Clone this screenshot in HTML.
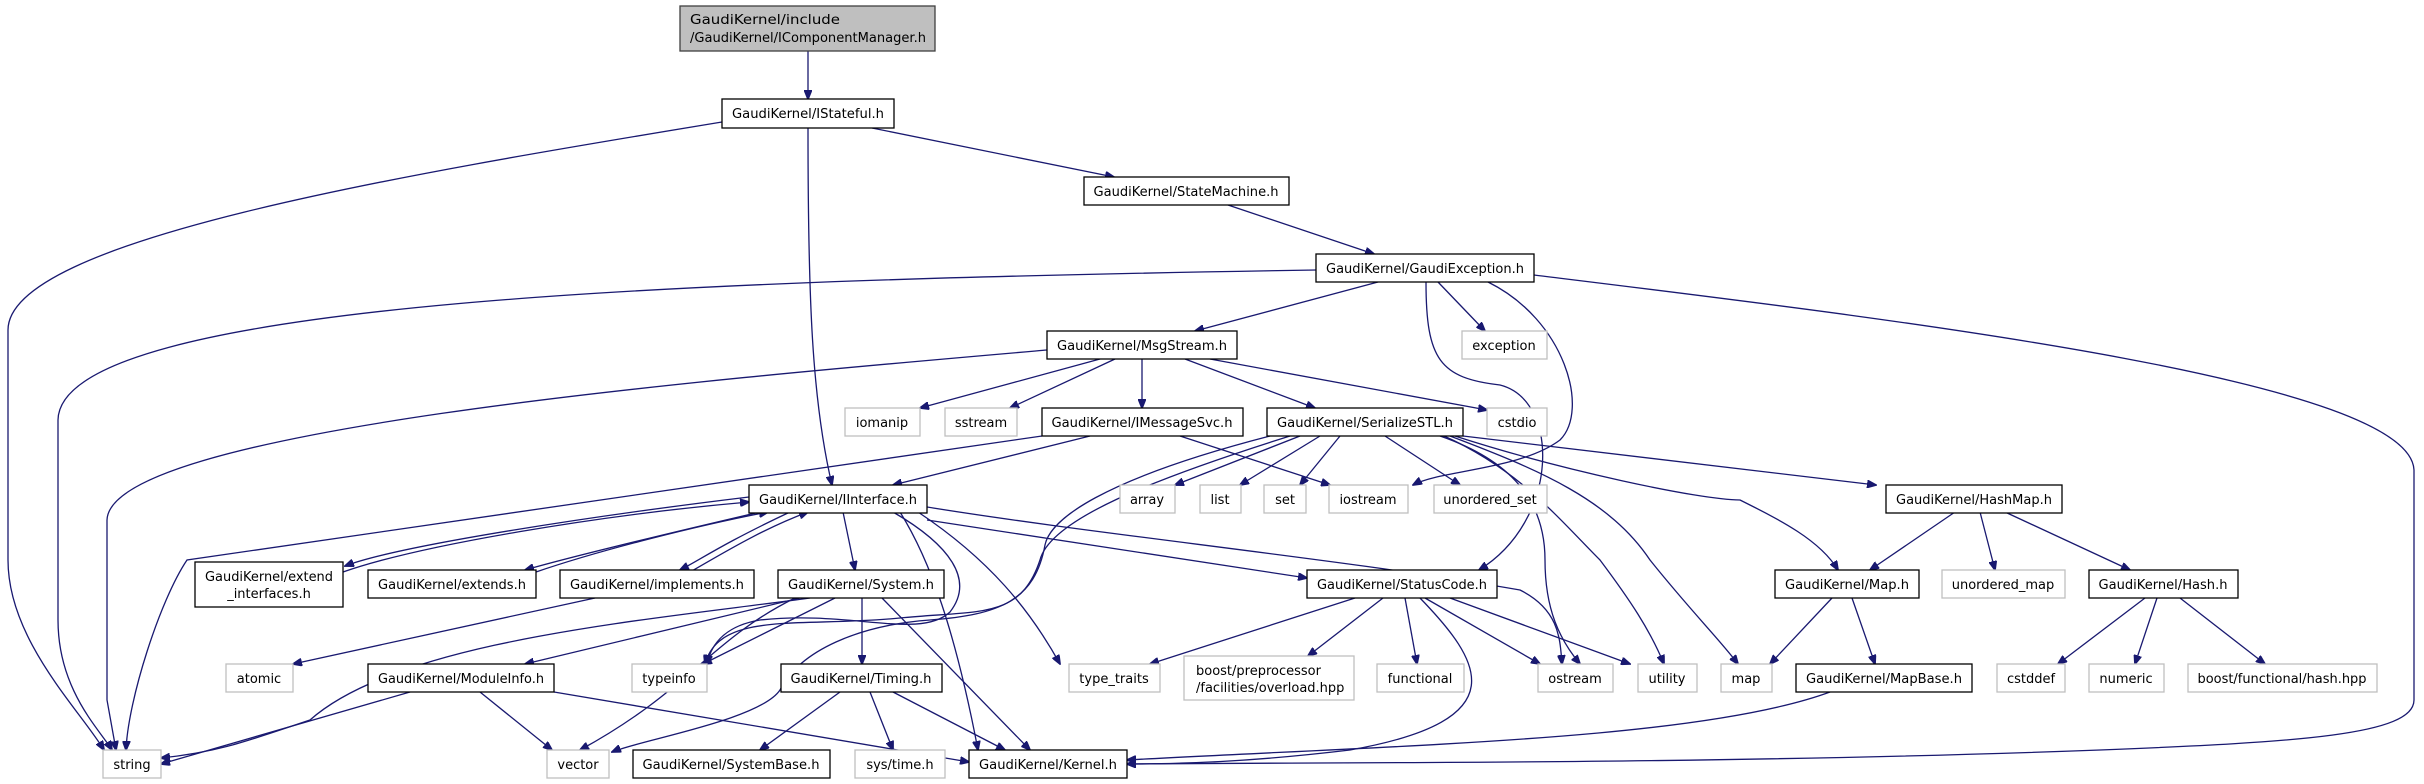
<!DOCTYPE html>
<html><head><meta charset="utf-8"><style>
html,body{margin:0;padding:0;background:#fff;}
svg{display:block}
text{font-family:"DejaVu Sans","Liberation Sans",sans-serif;font-size:13px;fill:#000}
.n rect{fill:#fff;stroke:#000;stroke-width:1.3}
.g rect{fill:#fff;stroke:#bfbfbf;stroke-width:1.3}
path.e{fill:none;stroke:#191970;stroke-width:1.3}
</style></head><body>
<svg width="2424" height="784" viewBox="0 0 2424 784" xmlns="http://www.w3.org/2000/svg">
<defs><marker id="a" markerWidth="10" markerHeight="8" refX="9" refY="4" orient="auto" markerUnits="userSpaceOnUse"><path d="M0,0 L10,4 L0,8 z" fill="#191970" stroke="#191970"/></marker></defs>
<g id="edges" marker-end="url(#a)">
<path class="e" d="M808,51 L808,99"/>
<path class="e" d="M722,122 C400,175 8,240 8,330 L8,560 C8,640 80,710 104,750"/>
<path class="e" d="M808,128 C808,300 812,400 832,485"/>
<path class="e" d="M872,128 L1114,177"/>
<path class="e" d="M1228,205 L1374,254"/>
<path class="e" d="M1316,270 C700,280 60,300 58,420 L58,620 C58,690 100,730 112,750"/>
<path class="e" d="M1378,282 L1195,331"/>
<path class="e" d="M1438,282 L1485,331"/>
<path class="e" d="M1488,282 C1565,320 1590,410 1560,440 C1520,470 1440,470 1413,485"/>
<path class="e" d="M1426,282 C1426,360 1440,378 1500,385 C1560,400 1560,520 1479,570"/>
<path class="e" d="M1534,275 C1900,320 2410,380 2414,470 L2414,700 C2414,735 2300,742 2100,750 C1700,765 1300,762 1127,764"/>
<path class="e" d="M1047,350 C700,380 110,430 107,520 L107,700 L116,750"/>
<path class="e" d="M1042,436 L187,560 C160,600 128,700 126,750"/>
<path class="e" d="M1100,359 L920,408"/>
<path class="e" d="M1115,359 L1010,408"/>
<path class="e" d="M1142,359 L1142,408"/>
<path class="e" d="M1185,359 L1315,408"/>
<path class="e" d="M1210,359 L1487,410"/>
<path class="e" d="M1090,436 L893,485"/>
<path class="e" d="M1180,436 L1330,485"/>
<path class="e" d="M1300,436 L1175,485"/>
<path class="e" d="M1320,436 L1240,485"/>
<path class="e" d="M1340,436 L1300,485"/>
<path class="e" d="M1385,436 L1460,485"/>
<path class="e" d="M1440,436 C1510,460 1545,500 1545,560 C1545,610 1560,640 1580,664"/>
<path class="e" d="M1444,436 C1520,470 1560,520 1600,560 C1630,600 1650,630 1664,664"/>
<path class="e" d="M1450,436 C1540,470 1610,500 1650,560 C1690,610 1720,640 1738,664"/>
<path class="e" d="M1455,436 C1560,470 1700,500 1740,500 C1780,520 1820,540 1838,570"/>
<path class="e" d="M1463,436 L1876,485"/>
<path class="e" d="M1290,436 C1150,480 1050,520 1040,560 C1020,620 980,610 900,618 C800,628 720,610 705,664"/>
<path class="e" d="M1270,436 C1100,480 1050,520 1045,545 C1035,600 1000,615 930,620 C860,625 800,650 780,690 C760,720 640,740 612,752"/>
<path class="e" d="M749,497 C600,515 400,545 345,566"/>
<path class="e" d="M343,572 C420,545 600,515 749,502"/>
<path class="e" d="M760,512 C640,540 560,560 525,570"/>
<path class="e" d="M536,572 C600,550 700,525 768,512"/>
<path class="e" d="M790,512 C720,545 700,560 680,570"/>
<path class="e" d="M690,572 C720,555 760,530 808,512"/>
<path class="e" d="M843,512 L855,570"/>
<path class="e" d="M893,512 C950,545 975,580 950,612 C920,640 850,610 760,620 C730,625 712,640 707,664"/>
<path class="e" d="M900,512 C930,560 955,630 978,750"/>
<path class="e" d="M918,512 C990,560 1030,610 1060,664"/>
<path class="e" d="M927,520 L1307,578"/>
<path class="e" d="M927,507 C1100,535 1350,560 1520,590 C1560,610 1560,640 1562,664"/>
<path class="e" d="M810,598 C650,620 400,640 310,720 C250,740 220,752 161,758"/>
<path class="e" d="M800,598 L525,664"/>
<path class="e" d="M795,598 C710,640 690,690 580,750"/>
<path class="e" d="M835,598 L703,664"/>
<path class="e" d="M862,598 L862,664"/>
<path class="e" d="M882,598 L1030,750"/>
<path class="e" d="M595,598 L293,664"/>
<path class="e" d="M410,692 L161,764"/>
<path class="e" d="M480,692 L552,750"/>
<path class="e" d="M554,692 L969,762"/>
<path class="e" d="M840,692 L760,750"/>
<path class="e" d="M870,692 L893,750"/>
<path class="e" d="M893,692 L1005,750"/>
<path class="e" d="M1355,598 L1150,664"/>
<path class="e" d="M1383,598 L1308,656"/>
<path class="e" d="M1405,598 L1417,664"/>
<path class="e" d="M1425,598 L1540,664"/>
<path class="e" d="M1450,598 L1630,664"/>
<path class="e" d="M1420,598 C1480,660 1520,720 1350,750 C1250,762 1180,764 1127,764"/>
<path class="e" d="M1955,512 L1870,570"/>
<path class="e" d="M1980,512 L1995,570"/>
<path class="e" d="M2005,512 L2130,570"/>
<path class="e" d="M1832,598 L1770,664"/>
<path class="e" d="M1852,598 L1875,664"/>
<path class="e" d="M1830,692 C1700,740 1400,745 1127,760"/>
<path class="e" d="M2145,598 L2058,664"/>
<path class="e" d="M2157,598 L2135,664"/>
<path class="e" d="M2180,598 L2265,664"/>
</g>
<g>
<rect x="680" y="6" width="255" height="45" fill="#bfbfbf" stroke="#404040" stroke-width="1.3"/>
<text x="690" y="24" textLength="150" lengthAdjust="spacingAndGlyphs">GaudiKernel/include</text>
<text x="690" y="42" textLength="236" lengthAdjust="spacingAndGlyphs">/GaudiKernel/IComponentManager.h</text>
</g>
<g class="n"><rect x="722" y="99" width="172" height="29"/><text x="808" y="118" text-anchor="middle" textLength="152" lengthAdjust="spacingAndGlyphs">GaudiKernel/IStateful.h</text></g>
<g class="n"><rect x="1084" y="177" width="205" height="28"/><text x="1186" y="196" text-anchor="middle" textLength="185" lengthAdjust="spacingAndGlyphs">GaudiKernel/StateMachine.h</text></g>
<g class="n"><rect x="1316" y="254" width="218" height="28"/><text x="1425" y="273" text-anchor="middle" textLength="198" lengthAdjust="spacingAndGlyphs">GaudiKernel/GaudiException.h</text></g>
<g class="n"><rect x="1047" y="331" width="190" height="28"/><text x="1142" y="350" text-anchor="middle" textLength="170" lengthAdjust="spacingAndGlyphs">GaudiKernel/MsgStream.h</text></g>
<g class="g"><rect x="1462" y="331" width="85" height="28"/><text x="1504" y="350" text-anchor="middle">exception</text></g>
<g class="g"><rect x="845" y="408" width="75" height="28"/><text x="882" y="427" text-anchor="middle">iomanip</text></g>
<g class="g"><rect x="945" y="408" width="72" height="28"/><text x="981" y="427" text-anchor="middle">sstream</text></g>
<g class="n"><rect x="1042" y="408" width="201" height="28"/><text x="1142" y="427" text-anchor="middle" textLength="181" lengthAdjust="spacingAndGlyphs">GaudiKernel/IMessageSvc.h</text></g>
<g class="n"><rect x="1267" y="408" width="196" height="28"/><text x="1365" y="427" text-anchor="middle" textLength="176" lengthAdjust="spacingAndGlyphs">GaudiKernel/SerializeSTL.h</text></g>
<g class="g"><rect x="1487" y="408" width="60" height="28"/><text x="1517" y="427" text-anchor="middle">cstdio</text></g>
<g class="n"><rect x="749" y="485" width="178" height="28"/><text x="838" y="504" text-anchor="middle" textLength="158" lengthAdjust="spacingAndGlyphs">GaudiKernel/IInterface.h</text></g>
<g class="g"><rect x="1120" y="485" width="55" height="28"/><text x="1147" y="504" text-anchor="middle">array</text></g>
<g class="g"><rect x="1200" y="485" width="41" height="28"/><text x="1220" y="504" text-anchor="middle">list</text></g>
<g class="g"><rect x="1264" y="485" width="42" height="28"/><text x="1285" y="504" text-anchor="middle">set</text></g>
<g class="g"><rect x="1329" y="485" width="79" height="28"/><text x="1368" y="504" text-anchor="middle">iostream</text></g>
<g class="g"><rect x="1434" y="485" width="113" height="28"/><text x="1490" y="504" text-anchor="middle">unordered_set</text></g>
<g class="n"><rect x="1886" y="485" width="176" height="28"/><text x="1974" y="504" text-anchor="middle" textLength="156" lengthAdjust="spacingAndGlyphs">GaudiKernel/HashMap.h</text></g>
<g class="n"><rect x="195" y="562" width="148" height="45"/><text x="269" y="581" text-anchor="middle" textLength="128" lengthAdjust="spacingAndGlyphs">GaudiKernel/extend</text><text x="269" y="598" text-anchor="middle">_interfaces.h</text></g>
<g class="n"><rect x="368" y="570" width="168" height="28"/><text x="452" y="589" text-anchor="middle" textLength="148" lengthAdjust="spacingAndGlyphs">GaudiKernel/extends.h</text></g>
<g class="n"><rect x="560" y="570" width="194" height="28"/><text x="657" y="589" text-anchor="middle" textLength="174" lengthAdjust="spacingAndGlyphs">GaudiKernel/implements.h</text></g>
<g class="n"><rect x="778" y="570" width="166" height="28"/><text x="861" y="589" text-anchor="middle" textLength="146" lengthAdjust="spacingAndGlyphs">GaudiKernel/System.h</text></g>
<g class="n"><rect x="1307" y="570" width="190" height="28"/><text x="1402" y="589" text-anchor="middle" textLength="170" lengthAdjust="spacingAndGlyphs">GaudiKernel/StatusCode.h</text></g>
<g class="n"><rect x="1775" y="570" width="144" height="28"/><text x="1847" y="589" text-anchor="middle" textLength="124" lengthAdjust="spacingAndGlyphs">GaudiKernel/Map.h</text></g>
<g class="g"><rect x="1942" y="570" width="123" height="28"/><text x="2003" y="589" text-anchor="middle">unordered_map</text></g>
<g class="n"><rect x="2089" y="570" width="149" height="28"/><text x="2163" y="589" text-anchor="middle" textLength="129" lengthAdjust="spacingAndGlyphs">GaudiKernel/Hash.h</text></g>
<g class="g"><rect x="226" y="664" width="67" height="28"/><text x="259" y="683" text-anchor="middle">atomic</text></g>
<g class="n"><rect x="368" y="664" width="186" height="28"/><text x="461" y="683" text-anchor="middle" textLength="166" lengthAdjust="spacingAndGlyphs">GaudiKernel/ModuleInfo.h</text></g>
<g class="g"><rect x="632" y="664" width="75" height="28"/><text x="669" y="683" text-anchor="middle">typeinfo</text></g>
<g class="n"><rect x="781" y="664" width="161" height="28"/><text x="861" y="683" text-anchor="middle" textLength="141" lengthAdjust="spacingAndGlyphs">GaudiKernel/Timing.h</text></g>
<g class="g"><rect x="1069" y="664" width="91" height="28"/><text x="1114" y="683" text-anchor="middle">type_traits</text></g>
<g class="g"><rect x="1184" y="656" width="170" height="44"/><text x="1196" y="675">boost/preprocessor</text><text x="1196" y="692">/facilities/overload.hpp</text></g>
<g class="g"><rect x="1377" y="664" width="87" height="28"/><text x="1420" y="683" text-anchor="middle">functional</text></g>
<g class="g"><rect x="1538" y="664" width="75" height="28"/><text x="1575" y="683" text-anchor="middle">ostream</text></g>
<g class="g"><rect x="1638" y="664" width="59" height="28"/><text x="1667" y="683" text-anchor="middle">utility</text></g>
<g class="g"><rect x="1721" y="664" width="51" height="28"/><text x="1746" y="683" text-anchor="middle">map</text></g>
<g class="n"><rect x="1796" y="664" width="176" height="28"/><text x="1884" y="683" text-anchor="middle" textLength="156" lengthAdjust="spacingAndGlyphs">GaudiKernel/MapBase.h</text></g>
<g class="g"><rect x="1997" y="664" width="68" height="28"/><text x="2031" y="683" text-anchor="middle">cstddef</text></g>
<g class="g"><rect x="2089" y="664" width="75" height="28"/><text x="2126" y="683" text-anchor="middle">numeric</text></g>
<g class="g"><rect x="2188" y="664" width="189" height="28"/><text x="2282" y="683" text-anchor="middle" textLength="169" lengthAdjust="spacingAndGlyphs">boost/functional/hash.hpp</text></g>
<g class="g"><rect x="103" y="750" width="58" height="28"/><text x="132" y="769" text-anchor="middle">string</text></g>
<g class="g"><rect x="547" y="750" width="62" height="28"/><text x="578" y="769" text-anchor="middle">vector</text></g>
<g class="n"><rect x="633" y="750" width="197" height="28"/><text x="731" y="769" text-anchor="middle" textLength="177" lengthAdjust="spacingAndGlyphs">GaudiKernel/SystemBase.h</text></g>
<g class="g"><rect x="855" y="750" width="90" height="28"/><text x="900" y="769" text-anchor="middle">sys/time.h</text></g>
<g class="n"><rect x="969" y="750" width="158" height="28"/><text x="1048" y="769" text-anchor="middle" textLength="138" lengthAdjust="spacingAndGlyphs">GaudiKernel/Kernel.h</text></g>
</svg>
</body></html>
